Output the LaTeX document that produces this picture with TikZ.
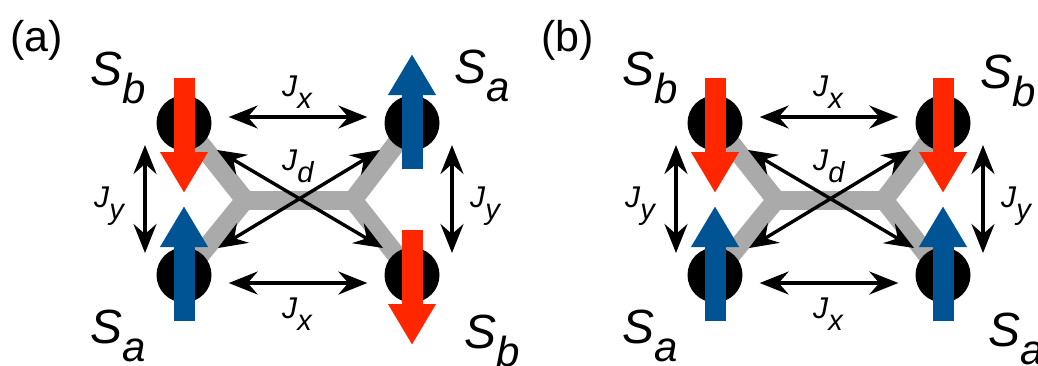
\documentclass[tikz,border=0pt]{standalone}
\usepackage{fontspec}
\setmainfont{Liberation Sans}
\usetikzlibrary{arrows.meta,calc}
\definecolor{spinred}{RGB}{255,38,0}
\definecolor{spinblue}{RGB}{0,84,147}
\definecolor{bondgray}{RGB}{170,170,170}

% spin label S_a, S_b and coupling label J_x, J_y, J_d
\newcommand{\spinlbl}[1]{\fontsize{48}{48}\selectfont\textit{S}\raisebox{-18pt}{\fontsize{42}{42}\selectfont\textit{#1}}}
\newcommand{\jlbl}[1]{\fontsize{30}{30}\selectfont\textit{J}\raisebox{-12pt}{\fontsize{29}{29}\selectfont\textit{#1}}}

\begin{document}
\begin{tikzpicture}[
x=1pt, y=-1pt,
atom/.style={circle, fill=black, minimum size=55pt, inner sep=0pt},
bond/.style={line width=19pt, bondgray, line join=miter},
spinup/.style={line width=21pt, spinblue, -{Triangle[length=41pt,width=45pt]}},
spindn/.style={line width=21pt, spinred, -{Triangle[length=41pt,width=45pt]}},
jarr/.style={line width=3.4pt, {Stealth[length=29pt,width=23pt,inset=10pt]}-{Stealth[length=29pt,width=23pt,inset=10pt]}},
lbl/.style={anchor=base west, inner sep=0pt}
]
\useasboundingbox (0,0) rectangle (1038,365);

\foreach \p/\dx/\sTR/\sBR in {a/0/up/dn, b/531/dn/up}{
\begin{scope}[shift={(\dx,0)}]
% sites and the gray bonds behind them
\coordinate (\p c1) at (184,123);
\coordinate (\p c2) at (412,123);
\coordinate (\p c3) at (184,275);
\coordinate (\p c4) at (412,275);
\coordinate (\p j1) at (245,200);
\coordinate (\p j2) at (353,200);
\draw[bond] (\p c1) -- (\p j1) -- (\p c3);
\draw[bond] (\p c2) -- (\p j2) -- (\p c4);
\draw[bond] (\p j1) -- (\p j2);
\node[atom] (\p tl) at (\p c1) {};
\node[atom] (\p tr) at (\p c2) {};
\node[atom] (\p bl) at (\p c3) {};
\node[atom] (\p br) at (\p c4) {};

% spins
\draw[spindn] ($(\p tl)+(0,-45)$) -- ($(\p tl)+(0,70)$);
\draw[spinup] ($(\p bl)+(0,46)$) -- ($(\p bl)+(0,-69)$);
\draw[spin\sTR] ($(\p tr)+(0,\ifnum\pdfstrcmp{\sTR}{up}=0 46\else -45\fi)$) -- ($(\p tr)+(0,\ifnum\pdfstrcmp{\sTR}{up}=0 -69\else 70\fi)$);
\draw[spin\sBR] ($(\p br)+(0,\ifnum\pdfstrcmp{\sBR}{up}=0 46\else -45\fi)$) -- ($(\p br)+(0,\ifnum\pdfstrcmp{\sBR}{up}=0 -69\else 70\fi)$);

% couplings
\draw[jarr] ([shift={(17,-6)}]\p tl.east) -- ([shift={(-17,-6)}]\p tr.west);
\draw[jarr] ([shift={(17,8)}]\p bl.east) -- ([shift={(-17,8)}]\p br.west);
\draw[jarr] ([shift={(-39,22)}]\p tl.center) -- ([shift={(-39,-22)}]\p bl.center);
\draw[jarr] ([shift={(40,22)}]\p tr.center) -- ([shift={(40,-22)}]\p br.center);
\draw[jarr] ([shift={(33,27)}]\p tl.center) -- ([shift={(-29,-27)}]\p br.center);
\draw[jarr] ([shift={(34,-27)}]\p bl.center) -- ([shift={(-32,27)}]\p tr.center);

\node[lbl] (\p jx1) at (282,96) {\jlbl{x}};
\node[lbl] (\p jx2) at (282,318) {\jlbl{x}};
\node[lbl] (\p jd) at (282,170) {\jlbl{d}};
\node[lbl] (\p jy1) at (94,207) {\jlbl{y}};
\node[lbl] (\p jy2) at (470,207) {\jlbl{y}};
\node[lbl, font=\fontsize{43}{43}\selectfont] (\p tag) at (10,51) {(\p)};
\end{scope}
}

% spin labels
\node[lbl] (sa1) at (90,85) {\spinlbl{b}};
\node[lbl] (sa2) at (454,83) {\spinlbl{a}};
\node[lbl] (sa3) at (90,343) {\spinlbl{a}};
\node[lbl] (sa4) at (464,348) {\spinlbl{b}};
\node[lbl] (sb1) at (622,85) {\spinlbl{b}};
\node[lbl] (sb2) at (980,88) {\spinlbl{b}};
\node[lbl] (sb3) at (622,343) {\spinlbl{a}};
\node[lbl] (sb4) at (988,346) {\spinlbl{a}};
\end{tikzpicture}
\end{document}
